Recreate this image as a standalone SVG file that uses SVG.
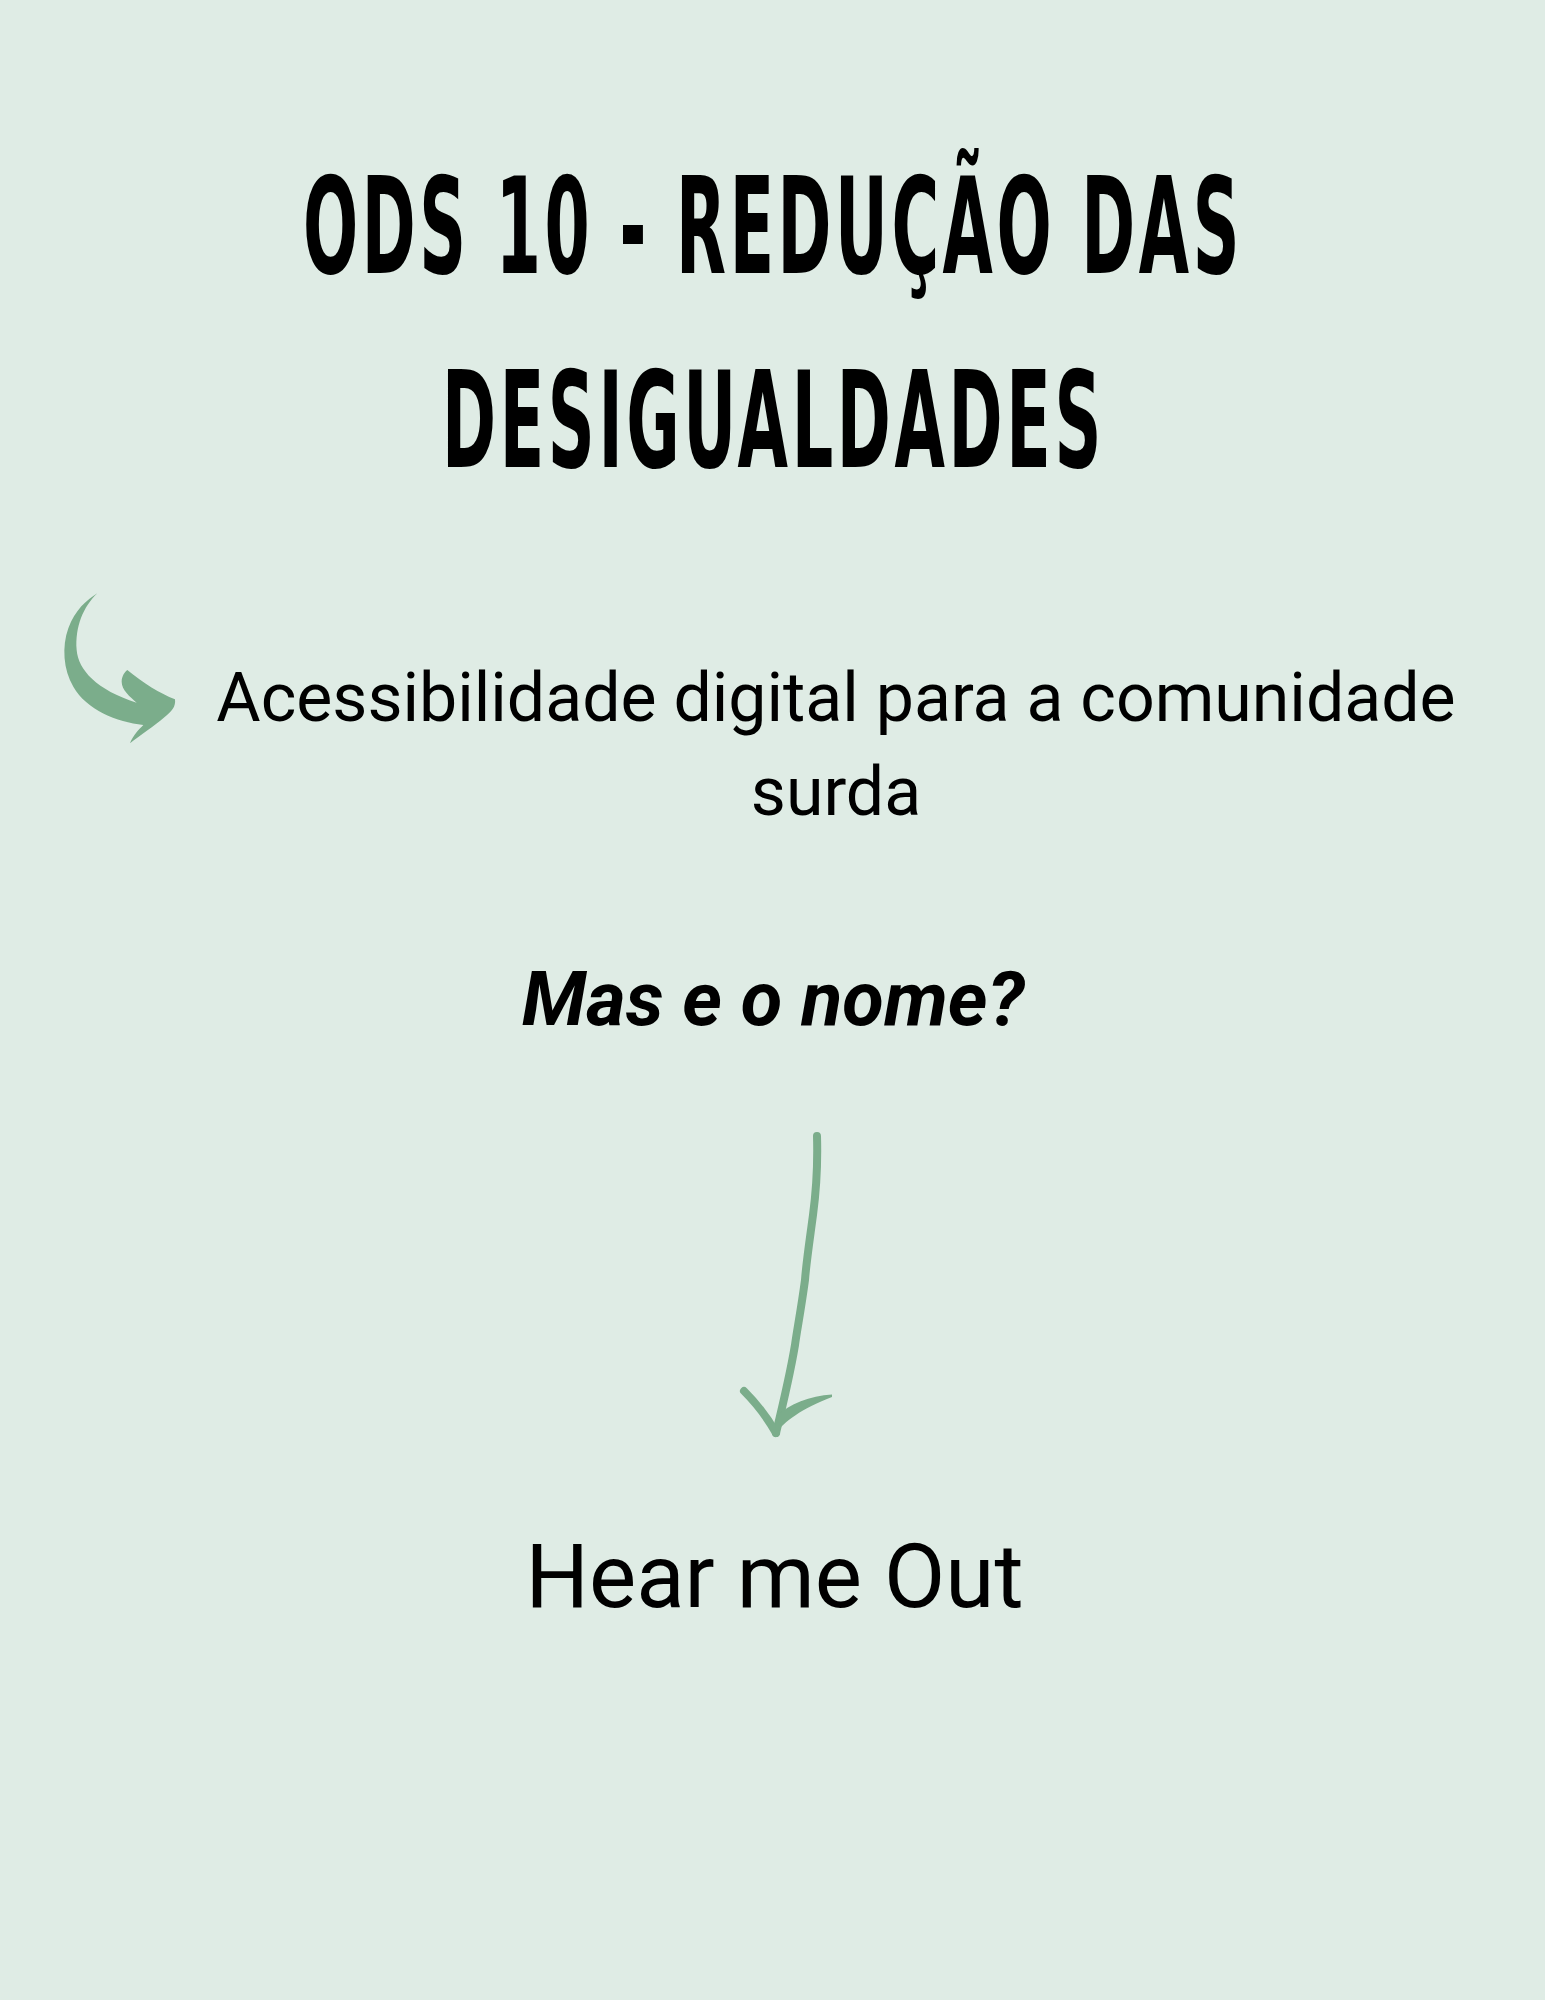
<svg xmlns="http://www.w3.org/2000/svg" width="1545" height="2000" viewBox="0 0 1545 2000">
<style>
.title{font-family:"DejaVu Sans Condensed","DejaVu Sans","Liberation Sans",sans-serif;font-weight:bold;font-stretch:condensed;font-size:80.4px;fill:#000;letter-spacing:4px}
.body{font-family:Roboto,"Liberation Sans",sans-serif;fill:#000}
.green{fill:#7bad8b}
.gstroke{fill:none;stroke:#7bad8b;stroke-linecap:round;stroke-linejoin:round}
</style>
<rect id="background" x="0" y="0" width="1545" height="2000" fill="#dfece5"/>
<g id="title">
<text class="title" transform="translate(0,273) scale(1,1.6667)" x="303" y="0" textLength="940" lengthAdjust="spacingAndGlyphs">ODS 10 - REDUÇÃO DAS</text>
<text class="title" transform="translate(0,467) scale(1,1.6667)" x="442" y="0" textLength="663" lengthAdjust="spacingAndGlyphs">DESIGUALDADES</text>
</g>
<g id="subtitle">
<text class="body" x="836" y="721" font-size="68" text-anchor="middle">Acessibilidade digital para a comunidade</text>
<text class="body" x="836" y="815" font-size="68" text-anchor="middle">surda</text>
</g>
<g id="question">
<text class="body" x="773" y="1025" font-size="76" font-weight="bold" font-style="italic" text-anchor="middle">Mas e o nome?</text>
</g>
<g id="answer">
<text class="body" x="774.5" y="1607" font-size="89" text-anchor="middle">Hear me Out</text>
</g>
<g id="connectors">
<path id="curved-arrow" class="green" transform="translate(40,570) scale(0.3333)" d="M172,70 C130,110 105,170 110,240 C115,300 170,360 290,398 C270,380 245,360 245,335 C245,318 255,305 262,300 C310,340 360,370 405,388 C408,410 395,425 375,440 C340,470 300,495 270,520 C280,495 295,480 310,465 C230,455 140,420 100,350 C70,300 65,230 85,175 C105,120 140,90 172,70 Z"/>
<g id="down-arrow">
<path class="gstroke" stroke-width="8" d="M817,1136 C818,1170 815,1200 813,1215 C809,1245 806,1265 805,1280 C801,1310 797,1330 795,1345 C790,1375 784,1400 776,1433"/>
<path class="gstroke" stroke-width="8" d="M744,1391 C755,1402 767,1417 776,1433"/>
<path class="green" d="M832,1394.5 C810,1396 789,1404 777,1416 L775,1434 C785,1421 801,1409 832,1397 Z"/>
</g>
</g>
</svg>
